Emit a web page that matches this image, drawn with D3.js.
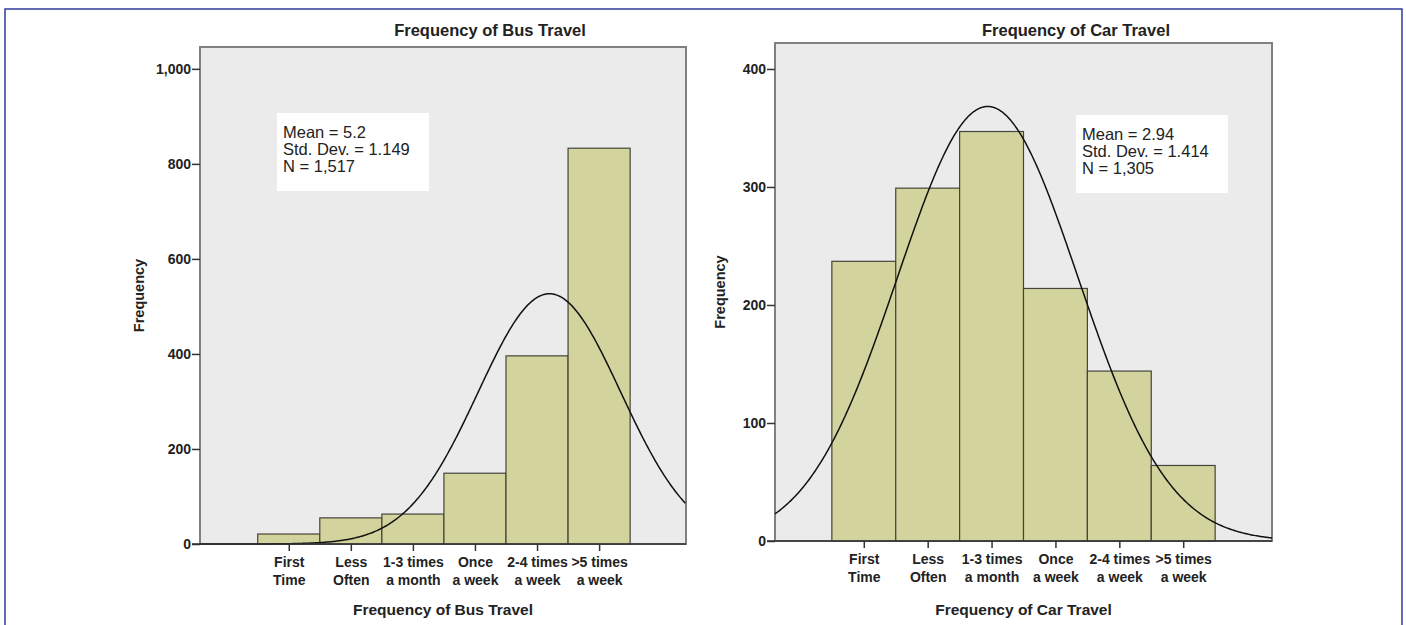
<!DOCTYPE html>
<html>
<head>
<meta charset="utf-8">
<script src="https://cdn.jsdelivr.net/npm/d3@7"></script>
<style>
  body { margin: 0; background: #fff; }
  svg { display: block; font-family: "Liberation Sans", Arial, sans-serif; }
  .tick text { font-weight: bold; font-size: 14px; fill: #222; }
</style>
</head>
<body>
<svg id="chart" width="1406" height="625"></svg>
<script>
// data
const categories = [["First", "Time"], ["Less", "Often"], ["1-3 times", "a month"],
  ["Once", "a week"], ["2-4 times", "a week"], [">5 times", "a week"]]
const catValues = [1, 2, 3, 4, 5, 6]
const busCounts = [21, 55, 63, 149, 396, 833]
const carCounts = [237, 299, 347, 214, 144, 64]
const busStats = [5.2, 1.149, 1517]   // mean, sd, N
const carStats = [2.94, 1.414, 1305]
const busYTicks = [0, 200, 400, 600, 800, 1000]
const carYTicks = [0, 100, 200, 300, 400]

const svg = d3.select("#chart")

// outer blue frame
svg.append("rect")
  .attr("x", 5).attr("y", 9)
  .attr("width", 1397).attr("height", 700)
  .attr("fill", "none")
  .attr("stroke", "#2e3c9c")
  .attr("stroke-width", 1.5)

const panels = [
  {title: "Frequency of Bus Travel", counts: busCounts, stats: busStats, yTicks: busYTicks,
   left: 200, right: 686, top: 47, bottom: 544, xDom: [-0.43, 7.4], yMax: 1046,
   titleX: 490, yLabelX: 139, box: [277, 113, 152, 78]},
  {title: "Frequency of Car Travel", counts: carCounts, stats: carStats, yTicks: carYTicks,
   left: 775, right: 1272, top: 43, bottom: 541, xDom: [-0.39, 7.39], yMax: 422,
   titleX: 1076, yLabelX: 720, box: [1076, 115, 152, 78]}
]

panels.forEach(p => {
  const x = d3.scaleLinear().domain(p.xDom).range([p.left, p.right])
  const y = d3.scaleLinear().domain([0, p.yMax]).range([p.bottom, p.top])
  const g = svg.append("g")

  // plot background
  g.append("rect")
    .attr("x", p.left).attr("y", p.top)
    .attr("width", p.right - p.left).attr("height", p.bottom - p.top)
    .attr("fill", "#ebebeb")
    .attr("stroke", "#808080")
    .attr("stroke-width", 2)

  // bars
  g.selectAll("rect.bar")
    .data(p.counts)
    .enter().append("rect")
    .attr("class", "bar")
    .attr("x", (d, i) => x(catValues[i] - 0.5))
    .attr("width", (d, i) => x(catValues[i] + 0.5) - x(catValues[i] - 0.5))
    .attr("y", d => y(d))
    .attr("height", d => p.bottom - y(d))
    .attr("fill", "#d3d39d")
    .attr("stroke", "#45453a")
    .attr("stroke-width", 1.2)

  // normal curve from the printed mean / sd / N
  const [mean, sd, n] = p.stats
  const curve = d3.range(p.xDom[0], p.xDom[1] + 0.001, 0.02).map(v => {
    const z = (v - mean) / sd
    return [v, n / (sd * Math.sqrt(2 * Math.PI)) * Math.exp(-0.5 * z * z)]
  })
  g.append("path")
    .datum(curve)
    .attr("fill", "none")
    .attr("stroke", "#111")
    .attr("stroke-width", 1.5)
    .attr("d", d3.line().x(d => x(d[0])).y(d => y(d[1])))

  // axes
  const yAxis = g.append("g")
    .attr("transform", `translate(${p.left},0)`)
    .call(d3.axisLeft(y).tickValues(p.yTicks).tickFormat(d3.format(",")).tickSize(8).tickPadding(1))
  yAxis.select(".domain").remove()
  yAxis.selectAll(".tick line").attr("stroke", "#333").attr("stroke-width", 1.5)

  const xAxis = g.append("g")
    .attr("transform", `translate(0,${p.bottom})`)
    .call(d3.axisBottom(x).tickValues(catValues).tickSize(7).tickFormat(""))
  xAxis.select(".domain").remove()
  xAxis.selectAll(".tick line").attr("stroke", "#333").attr("stroke-width", 1.5)
  xAxis.selectAll(".tick").each(function(d, i) {
    const t = d3.select(this).append("text")
      .attr("text-anchor", "middle")
      .attr("font-size", "13.5px")
      .attr("fill", "#222")
    categories[i].forEach((line, j) => {
      t.append("tspan").attr("x", 0).attr("y", 23 + j * 18).text(line)
    })
  })

  // x baseline
  g.append("line")
    .attr("x1", p.left - 8).attr("x2", p.right)
    .attr("y1", p.bottom).attr("y2", p.bottom)
    .attr("stroke", "#333").attr("stroke-width", 1.5)

  // titles
  g.append("text")
    .attr("x", p.titleX).attr("y", 36)
    .attr("text-anchor", "middle")
    .attr("font-weight", "bold").attr("font-size", "16.5px").attr("fill", "#222")
    .text(p.title)
  g.append("text")
    .attr("x", (p.left + p.right) / 2).attr("y", 615)
    .attr("text-anchor", "middle")
    .attr("font-weight", "bold").attr("font-size", "15.5px").attr("fill", "#222")
    .text(p.title)
  g.append("text")
    .attr("transform", `translate(${p.yLabelX},${(p.top + p.bottom) / 2}) rotate(-90)`)
    .attr("text-anchor", "middle")
    .attr("dy", "0.35em")
    .attr("font-weight", "bold").attr("font-size", "14.5px").attr("fill", "#222")
    .text("Frequency")

  // stats box
  const [bx, by, bw, bh] = p.box
  g.append("rect")
    .attr("x", bx).attr("y", by).attr("width", bw).attr("height", bh)
    .attr("fill", "#fff")
  const lines = [`Mean = ${mean}`, `Std. Dev. = ${d3.format(".3f")(sd)}`, `N = ${d3.format(",")(n)}`]
  g.append("text")
    .attr("font-size", "16.5px").attr("fill", "#222")
    .selectAll("tspan")
    .data(lines)
    .enter().append("tspan")
    .attr("x", bx + 6)
    .attr("y", (d, i) => by + 25 + i * 17)
    .text(d => d)
})
</script>
</body>
</html>
